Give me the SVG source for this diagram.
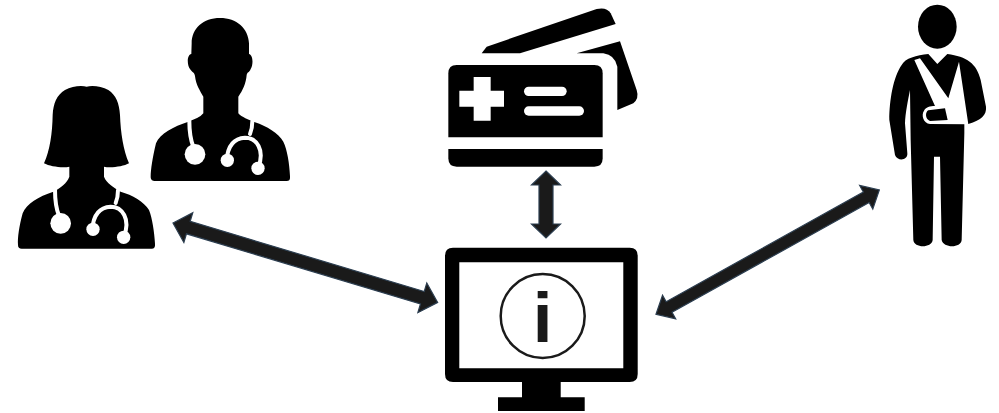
<svg xmlns="http://www.w3.org/2000/svg" width="999" height="413" viewBox="0 0 999 413">
<style>
.k{fill:#000}
.w{fill:#fff}
.s{fill:none;stroke:#fff;stroke-width:12;stroke-linecap:round}
.a{fill:#1a1a1a;stroke:#2c3e50;stroke-width:1.2;stroke-linejoin:miter}
</style>
<defs>
<g id="steth">
<path class="s" d="M568 362C568 385 568 410 580 440"/>
<circle class="w" cx="585" cy="463" r="31"/>
<path class="s" d="M757 364C757 380 755 390 750 402"/>
<path class="s" d="M680 480C683 440 700 415 735 413C770 413 795 450 775 502"/>
<circle class="w" cx="682" cy="481" r="20"/>
<circle class="w" cx="774" cy="505" r="20"/>
</g>
</defs>
<rect width="999" height="413" fill="#fff"/>
<g id="doctor-male" transform="scale(.33333)">
<path class="k" d="M660 54C610 54 575 85 575 130L574 162C560 165 561 195 570 207C578 220 583 215 585 228C588 255 600 272 610 290L610 340C600 352 585 358 565 365C520 380 480 400 468 430C458 470 452 510 452 530C452 540 458 543 465 543L860 543C868 543 871 538 870 528C868 490 862 450 850 425C835 400 800 378 765 367C745 358 725 352 715 340L715 290C728 272 738 250 740 225C742 215 748 218 752 207C760 195 760 165 747 162L747 130C745 85 710 54 660 54Z"/>
<use href="#steth"/>
</g>
<g id="doctor-female" transform="scale(.33333)">
<path class="k" d="M260 260C245 256 215 258 195 270C170 285 160 310 158 345C157 400 150 450 132 490C150 500 190 505 208 500L208 530C200 550 185 562 160 575C115 590 80 610 68 640C58 675 52 715 54 735C54 743 58 746 65 746L455 746C463 746 466 741 465 731C463 695 457 655 447 630C432 605 397 585 362 575C340 562 320 550 312 530L312 500C330 505 370 500 387 490C370 450 362 400 360 345C358 310 348 285 325 270C305 258 275 256 260 260Z"/>
<use href="#steth" x="-403" y="207"/>
</g>
<g id="insurance-card" transform="translate(420 0) scale(.33333)">
<path class="k" d="M185 160L200 140L530 27Q560 20 572 40L587 72L300 160Z"/>
<path class="k" d="M470 160L600 124L650 270Q658 295 640 310L592 330L592 200Q585 165 550 160Z"/>
<path class="k" d="M110 195H523Q548 195 548 220V412H85V220Q85 195 110 195Z"/>
<path class="k" d="M85 447H548V475Q548 500 523 500H110Q85 500 85 475Z"/>
<path class="w" d="M161 231H212V272H252V320H212V362H161V320H118V272H161Z"/>
<rect class="w" x="312" y="260" width="128" height="28" rx="14"/>
<rect class="w" x="312" y="319" width="180" height="28" rx="14"/>
</g>
<g id="patient" transform="translate(860 0) scale(.33333)">
<ellipse class="k" cx="232" cy="80" rx="58" ry="66"/>
<path class="k" d="M205 162L232 192L262 162C320 170 350 190 362 240L378 320C380 345 365 360 325 372L313 372L313 400L305 720C303 745 250 745 245 720L240 470L222 470L218 720C215 745 162 745 160 720L152 420L150 270C144 300 136 340 135 370L142 460C144 482 112 485 105 465L88 360C88 300 100 230 125 195C135 175 170 165 205 162Z"/>
<path class="w" d="M163 180L180 175L265 295L297 185L325 373L210 372C190 370 183 345 192 332C197 322 210 318 225 318Z"/>
<path class="k" d="M205 331L255 325L263 360L210 363C195 358 195 336 205 331Z"/>
</g>
<g id="monitor">
<path class="k" fill-rule="evenodd" d="M453 247.7H629.7Q637.7 247.7 637.7 255.7V374Q637.7 382 629.7 382H560.7V397.3H584.7V411H498V397.3H522V382H453Q445 382 445 374V255.7Q445 247.7 453 247.7ZM459.3 262.3V368.3H623.3V262.3Z"/>
<circle cx="542.7" cy="316" r="42" fill="none" stroke="#1a1a1a" stroke-width="2.5"/>
<text x="542.5" y="342" font-family="'Liberation Sans',Arial,sans-serif" font-weight="700" font-size="71" text-anchor="middle" fill="#1a1a1a">i</text>
</g>
<g id="connectors">
<polygon class="a" transform="translate(173 223) rotate(16.7)" points="0,0 16,-15.5 16,-6.5 260.3,-6.5 260.3,-15.5 276.3,0 260.3,15.5 260.3,6.5 16,6.5 16,15.5"/>
<polygon class="a" transform="translate(546 171) rotate(90)" points="0,0 14,-14.5 14,-7 53,-7 53,-14.5 67,0 53,14.5 53,7 14,7 14,14.5"/>
<polygon class="a" transform="translate(656 314.3) rotate(-29.1)" points="0,0 15,-13.5 15,-6 240.6,-6 240.6,-13.5 255.6,0 240.6,13.5 240.6,6 15,6 15,13.5"/>
</g>
</svg>
